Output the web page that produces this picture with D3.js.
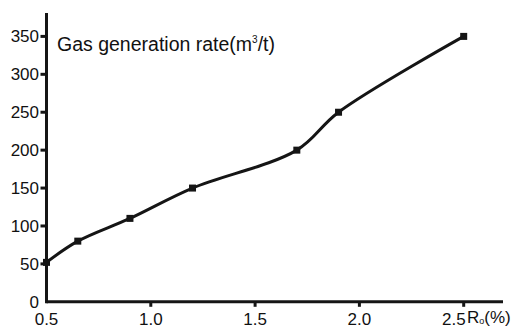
<!DOCTYPE html>
<html>
<head>
<meta charset="utf-8">
<script src="https://cdn.jsdelivr.net/npm/d3@7/dist/d3.min.js"></script>
<style>
  html, body { margin: 0; padding: 0; background: #fff; }
  svg { display: block; }
  text { font-family: "Liberation Sans", Arial, sans-serif; fill: #111; }
</style>
</head>
<body>
<svg id="chart" width="529" height="326"></svg>
<script>
// Vitrinite reflectance Ro (%) and gas generation rate (m3/t)
const roValues = [0.5, 0.65, 0.9, 1.2, 1.7, 1.9, 2.5];
const gasRate = [52, 80, 110, 150, 200, 250, 350];
const xTicks = [0.5, 1.0, 1.5, 2.0, 2.5];
const yTicks = [0, 50, 100, 150, 200, 250, 300, 350];

const svg = d3.select("#chart");
const ink = "#151515";

const x = d3.scaleLinear().domain([0.5, 2.5]).range([46.5, 463.7]);
const y = d3.scaleLinear().domain([0, 350]).range([301.8, 36.4]);

const x0 = x(0.5), yBase = y(0);

// axis lines
svg.append("line")
  .attr("x1", x0).attr("x2", 503)
  .attr("y1", yBase).attr("y2", yBase)
  .attr("stroke", ink).attr("stroke-width", 3);
svg.append("line")
  .attr("x1", x0).attr("x2", x0)
  .attr("y1", yBase + 1.5).attr("y2", 13)
  .attr("stroke", ink).attr("stroke-width", 3);

// x ticks and labels (last label sits left of the tick to leave room for the title)
const xg = svg.append("g");
xg.selectAll("line").data(xTicks.slice(1)).join("line")
  .attr("x1", d => x(d)).attr("x2", d => x(d))
  .attr("y1", yBase).attr("y2", yBase + 5)
  .attr("stroke", ink).attr("stroke-width", 3);
xg.selectAll("text").data(xTicks).join("text")
  .attr("x", (d, i) => i === xTicks.length - 1 ? x(d) + 2 : x(d))
  .attr("y", 325)
  .attr("text-anchor", (d, i) => i === xTicks.length - 1 ? "end" : "middle")
  .attr("font-size", 17)
  .text(d => d.toFixed(1));

// y ticks and labels
const yg = svg.append("g");
yg.selectAll("line").data(yTicks.slice(1)).join("line")
  .attr("x1", x0 - 6).attr("x2", x0)
  .attr("y1", d => y(d)).attr("y2", d => y(d))
  .attr("stroke", ink).attr("stroke-width", 3);
yg.selectAll("text").data(yTicks).join("text")
  .attr("x", 39).attr("y", d => y(d) + 6)
  .attr("text-anchor", "end")
  .attr("font-size", 17)
  .text(d => d);

// x axis title: Ro(%)
const xt = svg.append("text").attr("x", 467).attr("y", 323).attr("font-size", 17);
xt.append("tspan").text("R");
xt.append("tspan").attr("font-size", 9).attr("dy", 1).text("o");
xt.append("tspan").attr("dy", -1).text("(%)");

// y axis title
const yt = svg.append("text").attr("x", 57).attr("y", 51).attr("font-size", 19.5);
yt.append("tspan").text("Gas generation rate(m");
yt.append("tspan").attr("font-size", 10).attr("dy", -8).text("3");
yt.append("tspan").attr("dy", 8).text("/t)");

// curve
const pts = roValues.map((r, i) => [r, gasRate[i]]);
svg.append("path")
  .datum(pts)
  .attr("fill", "none")
  .attr("stroke", ink)
  .attr("stroke-width", 3)
  .attr("stroke-linejoin", "round")
  .attr("d", d3.line().x(d => x(d[0])).y(d => y(d[1])).curve(d3.curveCatmullRom.alpha(0.5)));

// markers
svg.selectAll("rect.pt").data(pts).join("rect")
  .attr("class", "pt")
  .attr("x", d => x(d[0]) - 3.5).attr("y", d => y(d[1]) - 3.5)
  .attr("width", 7).attr("height", 7)
  .attr("fill", ink);
</script>
</body>
</html>
